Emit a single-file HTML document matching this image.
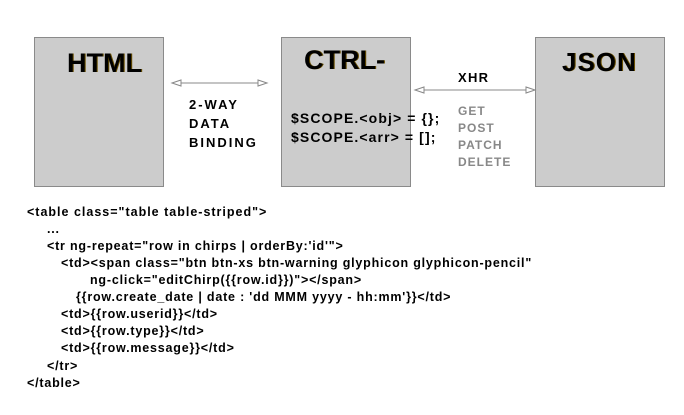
<!DOCTYPE html>
<html><head><style>
body{margin:0;width:684px;height:415px;background:#fff;position:relative;overflow:hidden;font-family:"Liberation Sans",Arial,sans-serif;font-weight:bold}
.box{position:absolute;top:37px;width:130px;height:150px;background:#cccccc;border:1px solid #8a8a8a;box-sizing:border-box}
.t{position:absolute;white-space:nowrap;color:#000}
.big{font-size:27px;text-shadow:1px 0 0 #6a5000}
.g{color:#888;font-size:12px;letter-spacing:1px}
.c{font-size:12.5px;letter-spacing:0.8px}
</style></head><body>
<div class="box" style="left:34px"></div>
<div class="box" style="left:281px"></div>
<div class="box" style="left:535px"></div>
<div class="t big" style="left:67px;top:48px">HTML</div>
<div class="t big" style="left:304px;top:45px">CTRL-</div>
<div class="t big" style="left:562px;top:47px;font-size:26px;letter-spacing:1px">JSON</div>
<svg style="position:absolute;left:0;top:0" width="684" height="415">
<g stroke="#888" fill="#fff" stroke-width="1">
<line x1="172" y1="83" x2="267" y2="83"/>
<polygon points="172,83 181,80 181,86"/>
<polygon points="267,83 258,80 258,86"/>
<line x1="415" y1="90" x2="535" y2="90"/>
<polygon points="415,90 424,87 424,93"/>
<polygon points="535,90 526,87 526,93"/>
</g></svg>
<div class="t" style="left:458px;top:70px;font-size:13px;letter-spacing:1.3px">XHR</div>
<div class="t" style="left:189px;top:95px;font-size:13px;line-height:19px;letter-spacing:2px">2-WAY<br>DATA<br>BINDING</div>
<div class="t" style="left:291px;top:109px;font-size:14px;line-height:19px;letter-spacing:1.1px">$SCOPE.&lt;obj&gt; = {};<br>$SCOPE.&lt;arr&gt; = [];</div>
<div class="t g" style="left:458px;top:103px;line-height:17px">GET<br>POST<br>PATCH<br>DELETE</div>
<div class="t c" style="left:27px;top:205px;letter-spacing:1px">&lt;table class="table table-striped"&gt;</div>
<div class="t c" style="left:47px;top:222px">...</div>
<div class="t c" style="left:47px;top:239px">&lt;tr ng-repeat="row in chirps | orderBy:'id'"&gt;</div>
<div class="t c" style="left:61px;top:256px">&lt;td&gt;&lt;span class="btn btn-xs btn-warning glyphicon glyphicon-pencil"</div>
<div class="t c" style="left:90px;top:273px">ng-click="editChirp({{row.id}})"&gt;&lt;/span&gt;</div>
<div class="t c" style="left:76px;top:290px">{{row.create_date | date : 'dd MMM yyyy - hh:mm'}}&lt;/td&gt;</div>
<div class="t c" style="left:61px;top:307px">&lt;td&gt;{{row.userid}}&lt;/td&gt;</div>
<div class="t c" style="left:61px;top:324px">&lt;td&gt;{{row.type}}&lt;/td&gt;</div>
<div class="t c" style="left:61px;top:341px">&lt;td&gt;{{row.message}}&lt;/td&gt;</div>
<div class="t c" style="left:47px;top:359px">&lt;/tr&gt;</div>
<div class="t c" style="left:27px;top:376px">&lt;/table&gt;</div>
</body></html>
